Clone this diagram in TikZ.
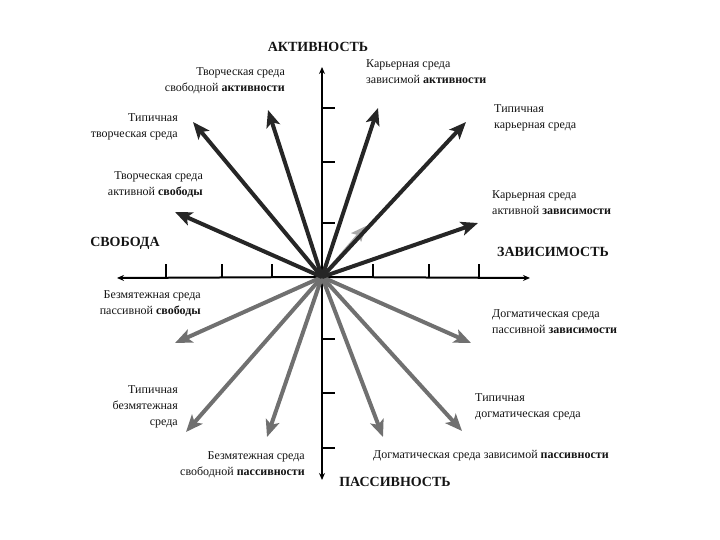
\documentclass[tikz,border=0pt]{standalone}
\usepackage{fontspec}
\setmainfont{Liberation Serif}
\usetikzlibrary{arrows.meta}
\definecolor{darkarr}{HTML}{262626}
\definecolor{grayarr}{HTML}{707070}
\definecolor{lightarr}{HTML}{A8A8A8}
\definecolor{txt}{HTML}{141414}
\tikzset{
  axisline/.style={line width=2pt, black, -{Stealth[length=7pt,width=6pt]}},
  tickline/.style={line width=2pt, black},
  darkvec/.style={line width=4pt, darkarr, -{Stealth[length=17pt,width=14pt,inset=4pt]}},
  grayvec/.style={line width=4pt, grayarr, -{Stealth[length=17pt,width=14pt,inset=4pt]}},
  lightvec/.style={line width=3pt, lightarr, -{Stealth[length=15pt,width=13pt,inset=3pt]}},
  lab/.style={inner sep=0pt, text=txt, font=\fontsize{12}{16}\selectfont},
  labL/.style={lab, anchor=west, align=left},
  labR/.style={lab, anchor=east, align=right},
  axlab/.style={inner sep=0pt, text=txt, font=\fontsize{14}{16}\selectfont\bfseries}
}
\begin{document}
\begin{tikzpicture}[x=1pt,y=-1pt]
\useasboundingbox (0,0) rectangle (720,540);
% center and axis ends
\coordinate (O) at (322,277);
\coordinate (Ltip) at (117,278);
\coordinate (Rtip) at (530,278);
\coordinate (Ttip) at (322,67);
\coordinate (Btip) at (322,480);
% axes
\draw[axisline] (O) -- (Ltip);
\draw[axisline] (O) -- (Rtip);
\draw[axisline] (O) -- (Ttip);
\draw[axisline] (O) -- (Btip);
% ticks
\foreach \x in {166,222,272,373,429,479} \draw[tickline] (\x,278) -- (\x,264);
\foreach \y in {108,162,223,339,393,448} \draw[tickline] (322,\y) -- (335,\y);
% vector end points
\coordinate (a1) at (175,212);
\coordinate (a2) at (193,122);
\coordinate (a3) at (268,110);
\coordinate (a4) at (378,108);
\coordinate (a5) at (466,122);
\coordinate (a6) at (478,223);
\coordinate (a7) at (175,343);
\coordinate (a8) at (186,432);
\coordinate (a9) at (267,437);
\coordinate (a10) at (383,437);
\coordinate (a11) at (462,431);
\coordinate (a12) at (471,343);
\coordinate (a13) at (366,226);
% faint arrow under the dark ones
\draw[lightvec] (O) -- (a13);
% lower (gray) vectors
\foreach \p in {a7,a8,a9,a10,a11,a12} \draw[grayvec] (O) -- (\p);
% upper (dark) vectors
\foreach \p in {a1,a2,a3,a4,a5,a6} \draw[darkvec] (O) -- (\p);
% axis labels
\node[axlab] (act) at (318,47) {АКТИВНОСТЬ};
\node[axlab] (svo) at (125,243) {СВОБОДА};
\node[axlab] (zav) at (553,252) {ЗАВИСИМОСТЬ};
\node[axlab] (pas) at (395,482) {ПАССИВНОСТЬ};
% vector labels
\node[labR] (l1) at (285,81) {Творческая среда\\свободной \textbf{активности}};
\node[labL] (l2) at (366,72) {Карьерная среда\\зависимой \textbf{активности}};
\node[labL] (l3) at (494,118) {Типичная\\карьерная среда};
\node[labL] (l4) at (492,203) {Карьерная среда\\активной \textbf{зависимости}};
\node[labR] (l5) at (178,127) {Типичная\\творческая среда};
\node[labR] (l6) at (203,185) {Творческая среда\\активной \textbf{свободы}};
\node[labR] (l7) at (201,304) {Безмятежная среда\\пассивной \textbf{свободы}};
\node[labR] (l8) at (178,407) {Типичная\\безмятежная\\среда};
\node[labR] (l9) at (305,465) {Безмятежная среда\\свободной \textbf{пассивности}};
\node[labL] (l10) at (492,322) {Догматическая среда\\пассивной \textbf{зависимости}};
\node[labL] (l11) at (475,407) {Типичная\\догматическая среда};
\node[labL] (l12) at (373,456) {Догматическая среда зависимой \textbf{пассивности}};
\end{tikzpicture}
\end{document}
